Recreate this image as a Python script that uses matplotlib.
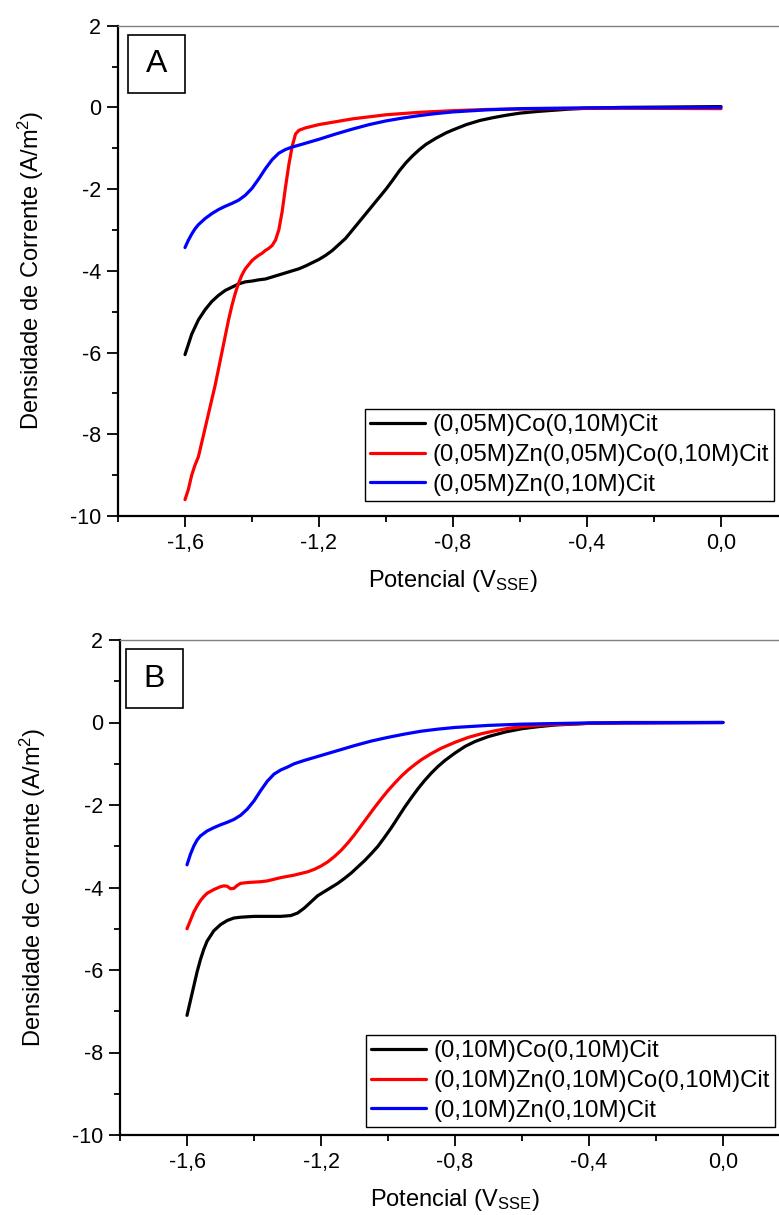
import matplotlib
matplotlib.use("Agg")
import matplotlib.pyplot as plt
from matplotlib.ticker import MultipleLocator, FuncFormatter
from matplotlib.patches import Rectangle

plt.rcParams['font.family'] = ['Liberation Sans', 'DejaVu Sans']
plt.rcParams['mathtext.fontset'] = 'custom'
plt.rcParams['mathtext.rm'] = 'Liberation Sans'
plt.rcParams['mathtext.it'] = 'Liberation Sans'
plt.rcParams['mathtext.bf'] = 'Liberation Sans'
plt.rcParams['axes.unicode_minus'] = False

# ---------------- Panel A data ----------------
a_co_v = [-1.60, -1.59, -1.58, -1.56, -1.54, -1.52, -1.50, -1.48, -1.46, -1.44, -1.42, -1.40,
          -1.38, -1.36, -1.34, -1.32, -1.30, -1.28, -1.26, -1.24, -1.22, -1.20, -1.18, -1.16,
          -1.14, -1.12, -1.10, -1.08, -1.06, -1.04, -1.02, -1.00, -0.98, -0.96, -0.94, -0.92,
          -0.90, -0.88, -0.85, -0.82, -0.80, -0.76, -0.72, -0.68, -0.64, -0.60, -0.55, -0.50,
          -0.45, -0.40, -0.30, 0.00]
a_co_j = [-6.05, -5.8, -5.55, -5.2, -4.95, -4.75, -4.6, -4.48, -4.4, -4.32, -4.27, -4.25,
          -4.22, -4.2, -4.15, -4.1, -4.05, -4.0, -3.95, -3.88, -3.8, -3.72, -3.62, -3.5,
          -3.35, -3.2, -3.0, -2.8, -2.6, -2.4, -2.2, -2.0, -1.78, -1.55, -1.35, -1.18,
          -1.03, -0.9, -0.75, -0.62, -0.55, -0.42, -0.32, -0.25, -0.19, -0.14, -0.1, -0.07,
          -0.04, -0.02, 0.0, 0.02]

a_znco_v = [-1.600, -1.590, -1.580, -1.570, -1.560, -1.550, -1.540, -1.530, -1.520, -1.510,
            -1.500, -1.490, -1.480, -1.470, -1.460, -1.450, -1.440, -1.430, -1.420, -1.410,
            -1.400, -1.390, -1.380, -1.370, -1.360, -1.350, -1.340, -1.330, -1.320, -1.310,
            -1.300, -1.290, -1.280, -1.270, -1.260, -1.240, -1.200, -1.150, -1.100, -1.000,
            -0.900, -0.800, -0.700, -0.500, -0.300, 0.000]
a_znco_j = [-9.6, -9.35, -9.0, -8.75, -8.55, -8.2, -7.85, -7.5, -7.15, -6.8,
            -6.4, -6.0, -5.6, -5.2, -4.85, -4.55, -4.3, -4.1, -3.95, -3.85,
            -3.75, -3.68, -3.62, -3.57, -3.5, -3.45, -3.38, -3.25, -3.0, -2.55,
            -1.95, -1.4, -0.95, -0.65, -0.56, -0.5, -0.42, -0.35, -0.28, -0.18,
            -0.12, -0.08, -0.05, -0.03, -0.02, -0.03]

a_zn_v = [-1.600, -1.590, -1.580, -1.570, -1.560, -1.540, -1.520, -1.500, -1.480, -1.460,
          -1.440, -1.420, -1.400, -1.380, -1.360, -1.340, -1.320, -1.300, -1.280, -1.250,
          -1.200, -1.150, -1.100, -1.050, -1.000, -0.950, -0.900, -0.850, -0.800, -0.700,
          -0.600, -0.400, 0.000]
a_zn_j = [-3.43, -3.25, -3.1, -2.97, -2.87, -2.72, -2.6, -2.5, -2.42, -2.35,
          -2.27, -2.15, -1.98, -1.75, -1.5, -1.28, -1.12, -1.03, -0.97, -0.9,
          -0.78, -0.65, -0.53, -0.42, -0.33, -0.26, -0.2, -0.15, -0.11, -0.06,
          -0.03, -0.01, 0.0]

# ---------------- Panel B data ----------------
b_co_v = [-1.600, -1.590, -1.580, -1.570, -1.560, -1.550, -1.540, -1.520, -1.500, -1.480,
          -1.460, -1.440, -1.400, -1.360, -1.320, -1.290, -1.270, -1.250, -1.230, -1.210,
          -1.190, -1.170, -1.150, -1.130, -1.110, -1.090, -1.070, -1.050, -1.030, -1.010,
          -0.990, -0.970, -0.950, -0.930, -0.910, -0.890, -0.870, -0.850, -0.830, -0.800,
          -0.770, -0.740, -0.700, -0.650, -0.600, -0.550, -0.500, -0.400, -0.300, 0.000]
b_co_j = [-7.1, -6.75, -6.4, -6.05, -5.75, -5.5, -5.3, -5.05, -4.9, -4.8,
          -4.74, -4.72, -4.7, -4.7, -4.7, -4.68, -4.62, -4.5, -4.35, -4.2,
          -4.1, -4.0, -3.9, -3.78, -3.65, -3.5, -3.35, -3.18, -3.0, -2.78,
          -2.55, -2.3, -2.05, -1.82, -1.6, -1.4, -1.22, -1.06, -0.92, -0.74,
          -0.58, -0.46, -0.34, -0.23, -0.15, -0.1, -0.06, -0.02, 0.0, 0.0]

b_znco_v = [-1.600, -1.590, -1.580, -1.570, -1.560, -1.550, -1.540, -1.520, -1.500, -1.490,
            -1.480, -1.470, -1.460, -1.450, -1.440, -1.420, -1.400, -1.380, -1.360, -1.340,
            -1.320, -1.300, -1.280, -1.260, -1.240, -1.220, -1.200, -1.180, -1.160, -1.140,
            -1.120, -1.100, -1.080, -1.060, -1.040, -1.020, -1.000, -0.980, -0.960, -0.940,
            -0.920, -0.900, -0.870, -0.840, -0.800, -0.760, -0.720, -0.680, -0.640, -0.600,
            -0.550, -0.500, -0.400, 0.000]
b_znco_j = [-5.0, -4.8, -4.6, -4.45, -4.32, -4.22, -4.14, -4.05, -3.98, -3.96,
            -3.97, -4.03, -4.02, -3.95, -3.9, -3.88, -3.87, -3.86, -3.84, -3.8,
            -3.76, -3.73, -3.7, -3.66, -3.62, -3.56, -3.48, -3.38, -3.25, -3.1,
            -2.92, -2.72, -2.5, -2.28, -2.06, -1.85, -1.65, -1.47, -1.3, -1.15,
            -1.02, -0.9, -0.75, -0.62, -0.48, -0.36, -0.27, -0.2, -0.14, -0.1,
            -0.07, -0.05, -0.02, 0.0]

b_zn_v = [-1.600, -1.590, -1.580, -1.570, -1.560, -1.540, -1.520, -1.500, -1.480, -1.460,
          -1.440, -1.420, -1.400, -1.380, -1.360, -1.340, -1.320, -1.300, -1.280, -1.250,
          -1.200, -1.150, -1.100, -1.050, -1.000, -0.950, -0.900, -0.850, -0.800, -0.700,
          -0.600, -0.400, 0.000]
b_zn_j = [-3.45, -3.2, -3.0, -2.85, -2.75, -2.63, -2.55, -2.48, -2.42, -2.35,
          -2.25, -2.1, -1.9, -1.65, -1.42, -1.25, -1.15, -1.08, -1.0, -0.92,
          -0.8, -0.68, -0.56, -0.45, -0.36, -0.28, -0.21, -0.16, -0.12, -0.07,
          -0.04, -0.01, 0.0]

labels_a = ['(0,05M)Co(0,10M)Cit', '(0,05M)Zn(0,05M)Co(0,10M)Cit', '(0,05M)Zn(0,10M)Cit']
labels_b = ['(0,10M)Co(0,10M)Cit', '(0,10M)Zn(0,10M)Co(0,10M)Cit', '(0,10M)Zn(0,10M)Cit']
colors = ['#000000', '#ff0000', '#0000ff']
panel_letters = ['A', 'B']
xticks = [-1.6, -1.2, -0.8, -0.4, 0.0]
yticks = [-10, -8, -6, -4, -2, 0, 2]

W, H = 779, 1215
fig = plt.figure(figsize=(W / 100, H / 100), dpi=100)

def px_axes(left, right, top, bottom):
    return fig.add_axes([left / W, 1 - bottom / H, (right - left) / W, (bottom - top) / H])

axA = px_axes(118, 788, 25.7, 516)
axB = px_axes(120, 790, 640, 1135)

panels = [
    (axA, [(a_co_v, a_co_j), (a_znco_v, a_znco_j), (a_zn_v, a_zn_j)], labels_a, 0.0306, 0.0149, 0.368),
    (axB, [(b_co_v, b_co_j), (b_znco_v, b_znco_j), (b_zn_v, b_zn_j)], labels_b, 0.016, 0.009, 0.367),
]

for i, (ax, series, labels, leg_y, box_x, leg_x) in enumerate(panels):
    for (v, j), c, lab in zip(series, colors, labels):
        ax.plot(v, j, color=c, lw=2.3, label=lab, solid_capstyle='round')
    ax.set_xlim(-1.8, 0.2)
    ax.set_ylim(-10, 2)
    ax.set_xticks(xticks)
    ax.set_yticks(yticks)
    ax.xaxis.set_minor_locator(MultipleLocator(0.2))
    ax.yaxis.set_minor_locator(MultipleLocator(1))
    ax.xaxis.set_major_formatter(FuncFormatter(lambda val, pos: f"{val:.1f}".replace('.', ',').replace('-0,0', '0,0')))
    ax.yaxis.set_major_formatter(FuncFormatter(lambda val, pos: f"{int(round(val))}"))
    ax.tick_params(axis='both', which='major', direction='out', length=8, width=1.3,
                   labelsize=15.5, pad=4)
    ax.tick_params(axis='both', which='minor', direction='out', length=4.3, width=1.3)
    ax.tick_params(top=False, right=False, which='both')
    for s in ['left', 'bottom']:
        ax.spines[s].set_linewidth(1.6)
        ax.spines[s].set_color('black')
    ax.spines['top'].set_linewidth(1.0)
    ax.spines['top'].set_color('#808080')
    ax.spines['right'].set_visible(False)
    ax.set_xlabel(r'Potencial (V$_{\mathrm{SSE}}$)', fontsize=17, labelpad=10)
    ax.set_ylabel(r'Densidade de Corrente (A/m$^{2}$)', fontsize=17, labelpad=17)
    leg = ax.legend(loc='lower left', bbox_to_anchor=(leg_x, leg_y), borderaxespad=0,
                    fontsize=17.3, frameon=True, fancybox=False, framealpha=1,
                    edgecolor='black', handlelength=2.3, handletextpad=0.3,
                    borderpad=0.22, labelspacing=0.32)
    leg.get_frame().set_linewidth(1.0)
    for line in leg.get_lines():
        line.set_linewidth(2.3)
    ax.add_patch(Rectangle((box_x, 0.8627), 0.0846, 0.119,
                           transform=ax.transAxes, fill=False, edgecolor='black', lw=1.2,
                           clip_on=False))
    ax.text(box_x + 0.0423, 0.8627 + 0.0595, panel_letters[i],
            transform=ax.transAxes, ha='center', va='center', fontsize=23)

fig.savefig('out.png', dpi=100)
